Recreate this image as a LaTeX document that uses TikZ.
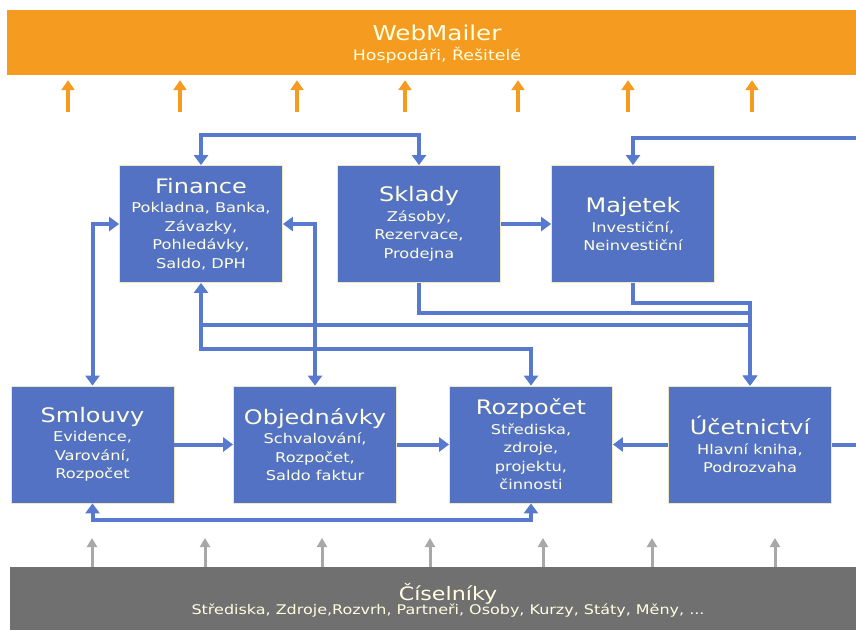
\documentclass[tikz,border=0pt]{standalone}
\usepackage{fontspec}
\setmainfont{DejaVu Sans}[FakeStretch=1.2]
\usetikzlibrary{arrows.meta,calc}

\definecolor{boxblue}{RGB}{84,114,196}
\definecolor{connblue}{RGB}{88,122,206}
\definecolor{boxedge}{RGB}{236,232,196}
\definecolor{cream}{RGB}{255,255,226}
\definecolor{weborange}{RGB}{244,155,32}
\definecolor{listgray}{RGB}{112,112,112}
\definecolor{arrowgray}{RGB}{168,168,168}

\newcommand{\modtitle}[1]{{\fontsize{20}{22}\selectfont #1}}

\tikzset{
  modbox/.style={draw=boxedge, line width=0.8pt, fill=boxblue,
    minimum width=163pt, minimum height=117pt, inner sep=0pt,
    text=cream, align=center, font=\fontsize{13.5}{18.5}\selectfont},
  conn/.style={draw=connblue, line width=4pt,
    arrows={-Triangle[width=14pt,length=10pt]}},
  bothconn/.style={draw=connblue, line width=4pt,
    arrows={Triangle[width=14pt,length=10pt]-Triangle[width=14pt,length=10pt]}},
  plainconn/.style={draw=connblue, line width=4pt},
  webarrow/.style={draw=weborange, line width=4pt,
    arrows={-Triangle[width=13pt,length=10pt]}},
  listarrow/.style={draw=arrowgray, line width=3pt,
    arrows={-Triangle[width=10pt,length=9pt]}},
  bartitle/.style={text=cream, font=\fontsize{20.5}{22}\selectfont, inner sep=0pt},
  barsub/.style={text=cream, font=\fontsize{14.5}{16}\selectfont, inner sep=0pt},
}

\begin{document}
\begin{tikzpicture}[x=1pt,y=-1pt]
\useasboundingbox (0,0) rectangle (856,630);
\fill[white] (0,0) rectangle (856,630);

% top bar: WebMailer
\node[fill=weborange, minimum width=849pt, minimum height=65pt, inner sep=0pt] (web) at (431.5,42.5) {};
\node[bartitle] (webt) at (437,33) {WebMailer};
\node[barsub] (webs) at (437,55) {Hospodáři, Řešitelé};

% bottom bar: code lists
\node[fill=listgray, minimum width=846pt, minimum height=63pt, inner sep=0pt] (cis) at (433,598.5) {};
\node[bartitle, font=\fontsize{18.5}{20}\selectfont] (cist) at (448,594) {Číselníky};
\node[barsub, font=\fontsize{13.3}{15}\selectfont] (ciss) at (448,611) {Střediska, Zdroje,Rozvrh, Partneři, Osoby, Kurzy, Státy, Měny, ...};

% module boxes
\node[modbox] (fin) at (201,224) {\modtitle{Finance}\\[1pt]Pokladna, Banka,\\Závazky,\\Pohledávky,\\Saldo, DPH};
\node[modbox] (skl) at (419,224) {\modtitle{Sklady}\\[1pt]Zásoby,\\Rezervace,\\Prodejna};
\node[modbox] (maj) at (633,224) {\modtitle{Majetek}\\[1pt]Investiční,\\Neinvestiční};
\node[modbox] (sml) at (92.5,444.5) {\modtitle{Smlouvy}\\[1pt]Evidence,\\Varování,\\Rozpočet};
\node[modbox] (obj) at (315,444.5) {\modtitle{Objednávky}\\[1pt]Schvalování,\\Rozpočet,\\Saldo faktur};
\node[modbox] (roz) at (531,444.5) {\modtitle{Rozpočet}\\[1pt]Střediska,\\zdroje,\\projektu,\\činnosti};
\node[modbox] (uce) at (750,444.5) {\modtitle{Účetnictví}\\[1pt]Hlavní kniha,\\Podrozvaha};

% free ends leaving the picture on the right
\coordinate (offmaj) at (860,138);
\coordinate (offuce) at (860,444.5);

% connectors
\draw[bothconn] (fin.north) -- ++(0,-30) -| (skl.north);
\draw[conn] (offmaj) -| (maj.north);
\draw[conn] (skl.east) -- (maj.west);
\draw[bothconn] (sml.north) |- (fin.west);
\draw[bothconn] (obj.north) |- (fin.east);
\draw[bothconn] (fin.south) -- ++(0,66) -| (roz.north);
\draw[conn] ($(fin.south)+(0,42)$) -| (uce.north);
\draw[conn] (skl.south) -- ++(0,30) -| (uce.north);
\draw[conn] (maj.south) -- ++(0,20) -| (uce.north);
\draw[conn] (sml.east) -- (obj.west);
\draw[conn] (obj.east) -- (roz.west);
\draw[conn] (uce.west) -- (roz.east);
\draw[plainconn] (uce.east) -- (offuce);
\draw[bothconn] (sml.south) -- ++(0,17) -| (roz.south);

% feeds to WebMailer
\foreach \x [count=\i] in {68,180,297,405,518,628,752} {
  \coordinate (wa\i) at (\x,112);
  \draw[webarrow, shorten >=5pt] (wa\i) -- (wa\i |- web.south);
}
% feeds from the code lists
\foreach \x [count=\i] in {92,205,322,430,543,652,775} {
  \coordinate (ca\i) at (\x,538);
  \draw[listarrow] (cis.north -| ca\i) -- (ca\i);
}
\end{tikzpicture}
\end{document}
